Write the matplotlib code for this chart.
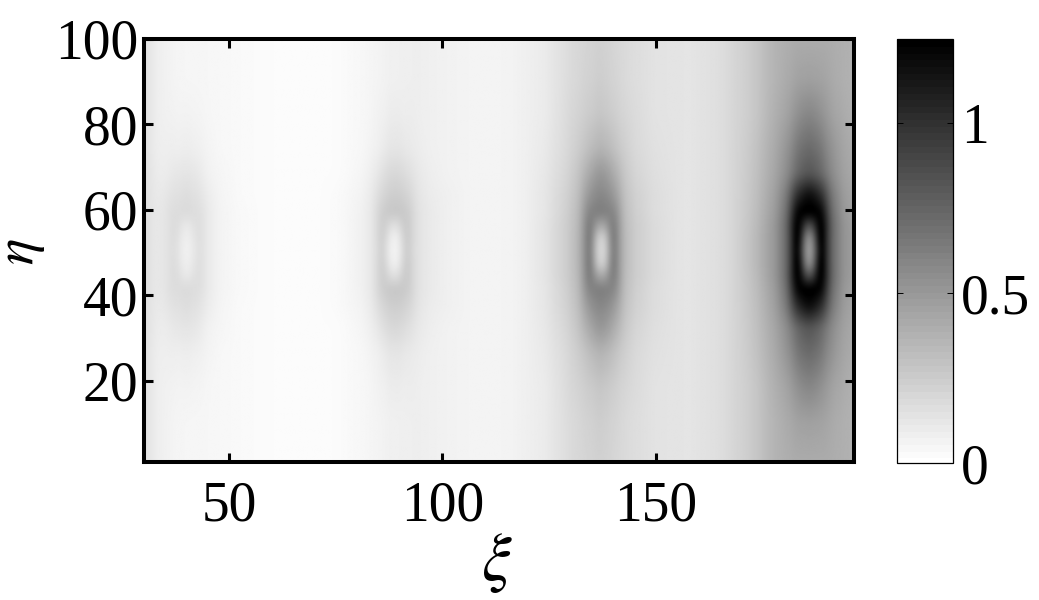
import numpy as np
import matplotlib
matplotlib.use("Agg")
import matplotlib.pyplot as plt
from matplotlib.cm import ScalarMappable
from matplotlib.colors import Normalize

plt.rcParams['font.family'] = ['Liberation Serif', 'DejaVu Serif']
plt.rcParams['mathtext.fontset'] = 'stix'

# background intensity along xi, read far from the four spots
bg_xi = [30, 33, 38, 45, 55, 65, 75, 82, 88, 94, 100, 108, 116, 124, 131, 137, 143, 150, 158, 165, 172, 178, 183, 186, 190, 196.5]
bg_val = [.147, .083, .05, .044, .025, .015, .02, .044, .075, .085, .07, .055, .06, .10, .19, .23, .18, .14, .13, .16, .245, .37, .41, .41, .41, .38]

# spot centres and the sampled offsets from them
spot_xi = [39.9, 88.7, 137.3, 186.1]
spot_eta = 50.5
off_xi = [0, 1, 2, 3, 4, 5.5, 8, 12, 18]
off_eta = [0, 3, 6, 9, 13, 18, 24, 32, 40, 49.5]

# change relative to the background: rows off_eta, columns off_xi
spot1 = [[.02, .04, .08, .11, .09, .05, .02, .005, 0],
         [.03, .05, .09, .12, .09, .05, .02, .005, 0],
         [.06, .08, .11, .12, .09, .05, .02, .005, 0],
         [.13, .13, .12, .11, .09, .05, .02, .005, 0],
         [.12, .11, .10, .09, .07, .04, .015, 0, 0],
         [.08, .08, .07, .06, .04, .02, .01, 0, 0],
         [.04, .04, .03, .03, .02, .01, 0, 0, 0],
         [.015, .015, .01, .01, .005, 0, 0, 0, 0],
         [0, 0, 0, 0, 0, 0, 0, 0, 0],
         [0, 0, 0, 0, 0, 0, 0, 0, 0]]
spot2 = [[-.02, .01, .10, .17, .12, .06, .03, .01, 0],
         [-.01, .03, .12, .18, .13, .06, .03, .01, 0],
         [.08, .10, .16, .18, .13, .06, .03, .01, 0],
         [.20, .20, .19, .17, .13, .06, .03, .01, 0],
         [.17, .16, .15, .13, .10, .05, .02, .01, 0],
         [.12, .11, .10, .08, .06, .03, .01, 0, 0],
         [.05, .05, .04, .03, .02, .01, 0, 0, 0],
         [.02, .02, .01, .01, .01, 0, 0, 0, 0],
         [0, 0, 0, 0, 0, 0, 0, 0, 0],
         [0, 0, 0, 0, 0, 0, 0, 0, 0]]
spot3 = [[-.05, .02, .28, .46, .32, .16, .08, .04, 0],
         [-.02, .06, .31, .47, .32, .16, .08, .04, 0],
         [.20, .25, .37, .44, .32, .15, .08, .04, 0],
         [.41, .41, .40, .38, .29, .14, .07, .03, 0],
         [.36, .35, .33, .29, .23, .12, .06, .03, 0],
         [.28, .27, .24, .20, .16, .09, .04, .02, 0],
         [.14, .13, .12, .10, .08, .05, .02, .01, 0],
         [.05, .05, .04, .04, .03, .02, .01, 0, 0],
         [.015, .015, .01, .01, .01, 0, 0, 0, 0],
         [0, 0, 0, 0, 0, 0, 0, 0, 0]]
spot4 = [[.03, .20, .60, .90, .62, .33, .14, .07, 0],
         [.10, .28, .68, .92, .62, .33, .14, .07, 0],
         [.45, .55, .78, .88, .64, .33, .14, .06, 0],
         [.88, .88, .86, .80, .58, .30, .12, .05, 0],
         [.78, .75, .68, .60, .45, .25, .10, .04, 0],
         [.42, .40, .37, .32, .25, .16, .07, .03, 0],
         [.32, .30, .28, .24, .18, .12, .05, .02, 0],
         [.18, .17, .15, .12, .09, .05, .02, 0, 0],
         [.06, .05, .05, .04, .03, .015, 0, 0, 0],
         [0, 0, 0, 0, 0, 0, 0, 0, 0]]
spots = [spot1, spot2, spot3, spot4]

xi_ticks = [50, 100, 150]
eta_ticks = [20, 40, 60, 80, 100]
cbar_ticks = [0, 0.5, 1]
cbar_labels = ['0', '0.5', '1']


def soften(a, width, axis):
    """Two passes of a short moving average, to hide the table's knots."""
    k = np.ones(width) / width
    pad = width

    def one(v):
        for _ in range(2):
            v = np.convolve(np.pad(v, pad, mode='edge'), k, mode='same')[pad:-pad]
        return v
    return np.apply_along_axis(one, axis, a)


xi = np.arange(30, 196.75, 0.25)
eta = np.arange(1, 100.25, 0.25)
field = np.tile(np.interp(xi, bg_xi, bg_val), (eta.size, 1))
for c, table in zip(spot_xi, spots):
    by_row = np.array([np.interp(np.abs(xi - c), off_xi, row, right=0) for row in table])
    for j in range(xi.size):
        field[:, j] += np.interp(np.abs(eta - spot_eta), off_eta, by_row[:, j])
field = soften(field, 5, 1)
field = soften(field, 9, 0)

W, H = 1039, 600
fig = plt.figure(figsize=(W / 100, H / 100), dpi=100)
ax = fig.add_axes([144 / W, 1 - 462 / H, (854 - 144) / W, (462 - 39) / H])
ax.imshow(field, origin='lower', extent=[xi[0], xi[-1], eta[0], eta[-1]], aspect='auto',
          cmap='gray_r', vmin=0, vmax=1.25, interpolation='bilinear')
ax.set_xlim(30, 196.5)
ax.set_ylim(1, 100)
ax.set_xticks(xi_ticks)
ax.set_yticks(eta_ticks)
ax.tick_params(direction='in', top=True, right=True, length=6.5, width=2.2, labelsize=40)
ax.tick_params(axis='x', pad=13)
ax.tick_params(axis='y', pad=4)
for s in ax.spines.values():
    s.set_linewidth(2.9)
ax.set_xlabel(r'$\xi$', fontsize=48)
ax.set_ylabel(r'$\eta$', fontsize=40)
ax.xaxis.set_label_coords((497 - 144) / 710, -(531 - 462) / 423, transform=ax.transAxes)
ax.yaxis.set_label_coords(-(144 - 47) / 710, (462 - 252) / 423, transform=ax.transAxes)

cax = fig.add_axes([896.5 / W, 1 - 463 / H, (953 - 896.5) / W, (463 - 38.5) / H])
cb = fig.colorbar(ScalarMappable(Normalize(0, 1.25), plt.get_cmap('gray_r', 64)), cax=cax, ticks=cbar_ticks)
cb.ax.set_yticklabels(cbar_labels)
cb.ax.tick_params(direction='in', left=True, right=True, length=4.5, width=0.7, labelsize=40, pad=6)
cb.outline.set_linewidth(0.9)
cb.solids.set_edgecolor('face')

fig.savefig('out.png', dpi=100)
